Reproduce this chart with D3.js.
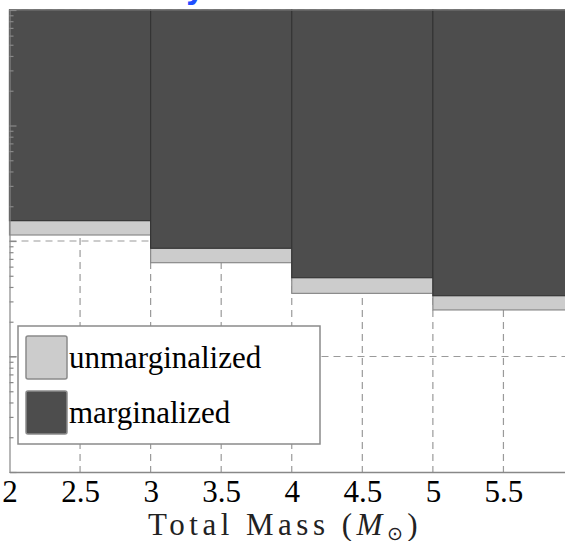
<!DOCTYPE html>
<html><head><meta charset="utf-8">
<script src="https://cdn.jsdelivr.net/npm/d3@7"></script>
<style>body{margin:0;background:#fff;overflow:hidden}svg{display:block}</style>
</head><body><svg id="c" width="565" height="541"></svg>
<script>
// ---- data ----
const binStarts = [2, 3, 4, 5];
const binEnds = [3, 4, 5, 6];
const marginalized = [0.150, 0.0865, 0.0481, 0.0336];
const unmarginalized = [0.1127, 0.0649, 0.0352, 0.0253];
const xTickValues = [2, 2.5, 3, 3.5, 4, 4.5, 5, 5.5];
const xTickLabels = ["2", "2.5", "3", "3.5", "4", "4.5", "5", "5.5"];
const yMajorTicks = [0.001, 0.01, 0.1, 1, 10];
const yTickLabels = ["10⁻³", "10⁻²", "10⁻¹", "10⁰", "10¹"];
const seriesNames = ["unmarginalized", "marginalized"];
const seriesColors = ["#cccccc", "#4d4d4d"];

// ---- layout ----
const SERIF = '"Liberation Serif", "Times New Roman", serif';
const svg = d3.select("#c");
svg.append("rect").attr("width", 565).attr("height", 541).attr("fill", "#fff");
const x = d3.scaleLinear().domain([2, 6]).range([9.5, 574]);
const y = d3.scaleLog().domain([0.001, 10]).range([472, 10]);

// blue title fragment (cut off at top)
svg.append("text").attr("x", 185).attr("y", -1)
  .style("font-family", '"DejaVu Sans", sans-serif').style("font-weight", "bold")
  .style("font-size", "30px").attr("fill", "#1f4fff").text("y");

// grid
const grid = svg.append("g").attr("stroke", "#9a9a9a").attr("stroke-width", 1.2)
  .attr("stroke-dasharray", "7,5");
grid.selectAll(".gv").data(xTickValues.filter(v => v > 2)).join("line")
  .attr("x1", d => x(d)).attr("x2", d => x(d)).attr("y1", y(10)).attr("y2", y(0.001));
grid.selectAll(".gh").data(yMajorTicks.filter(v => v > 0.001)).join("line")
  .attr("x1", x(2)).attr("x2", x(6)).attr("y1", d => y(d)).attr("y2", d => y(d));

// bars: unmarginalized (light) behind marginalized (dark)
const bins = binStarts.map((s, i) => ({s, e: binEnds[i], u: unmarginalized[i], m: marginalized[i]}));
svg.append("g").selectAll("rect").data(bins).join("rect")
  .attr("x", d => x(d.s)).attr("width", d => x(d.e) - x(d.s))
  .attr("y", y(10)).attr("height", d => y(d.u) - y(10))
  .attr("fill", seriesColors[0]).attr("stroke", "#8a8a8a").attr("stroke-width", 1.2);
svg.append("g").selectAll("rect").data(bins).join("rect")
  .attr("x", d => x(d.s)).attr("width", d => x(d.e) - x(d.s))
  .attr("y", y(10)).attr("height", d => y(d.m) - y(10))
  .attr("fill", seriesColors[1]).attr("stroke", "#353535").attr("stroke-width", 1.2);

// frame top
svg.append("line").attr("x1", x(2)).attr("x2", x(6)).attr("y1", y(10)).attr("y2", y(10))
  .attr("stroke", "#8a8a8a").attr("stroke-width", 1.2);

// y axis (ticks inward, labels off-canvas as in the cropped reference)
const isMajor = d => yMajorTicks.some(v => Math.abs(v - d) / v < 1e-6);
const yAxisG = svg.append("g").attr("transform", `translate(${x(2)},0)`);
yAxisG.call(d3.axisLeft(y).tickValues(y.ticks()).tickSize(-4).tickPadding(14)
  .tickFormat(d => { const i = yMajorTicks.findIndex(v => Math.abs(v - d) / v < 1e-6); return i >= 0 ? yTickLabels[i] : ""; }));
yAxisG.selectAll(".tick line").attr("x2", d => isMajor(d) ? 7 : 4);
yAxisG.selectAll("line,path").attr("stroke", "#888").attr("stroke-width", 1.2);
yAxisG.selectAll("text").style("font-family", SERIF).style("font-size", "26px").attr("fill", "#000");

// x axis
const xAxisG = svg.append("g").attr("transform", `translate(0,${y(0.001)})`);
xAxisG.call(d3.axisBottom(x).tickValues(xTickValues).tickSize(0)
  .tickFormat((d, i) => xTickLabels[i]));
xAxisG.select("path").attr("stroke", "#888").attr("stroke-width", 1.5);
xAxisG.selectAll("text").style("font-family", SERIF).style("font-size", "31px")
  .attr("fill", "#000").attr("dy", null).attr("y", 30);

// x title
const title = svg.append("text").attr("x", 148).attr("y", 535)
  .style("font-family", SERIF).style("font-size", "31px").attr("fill", "#222")
  .style("letter-spacing", "4.5px");
title.append("tspan").text("Total Mass (");
title.append("tspan").style("font-style", "italic").text("M");
title.append("tspan").style("font-size", "19px").attr("dy", 5).text("⊙");
title.append("tspan").attr("dy", -5).text(")");

// legend
const lg = svg.append("g");
lg.append("rect").attr("x", 18).attr("y", 326).attr("width", 302).attr("height", 118)
  .attr("fill", "#fff").attr("stroke", "#8a8a8a").attr("stroke-width", 1.5);
seriesNames.forEach((name, i) => {
  lg.append("rect").attr("x", 26).attr("y", 336 + i * 55).attr("width", 41).attr("height", 43)
    .attr("rx", 2).attr("fill", seriesColors[i]).attr("stroke", "#8a8a8a").attr("stroke-width", 1.5);
  lg.append("text").attr("x", 69).attr("y", 368 + i * 55)
    .style("font-family", SERIF).style("font-size", "31px").attr("fill", "#000").text(name);
});
</script></body></html>
